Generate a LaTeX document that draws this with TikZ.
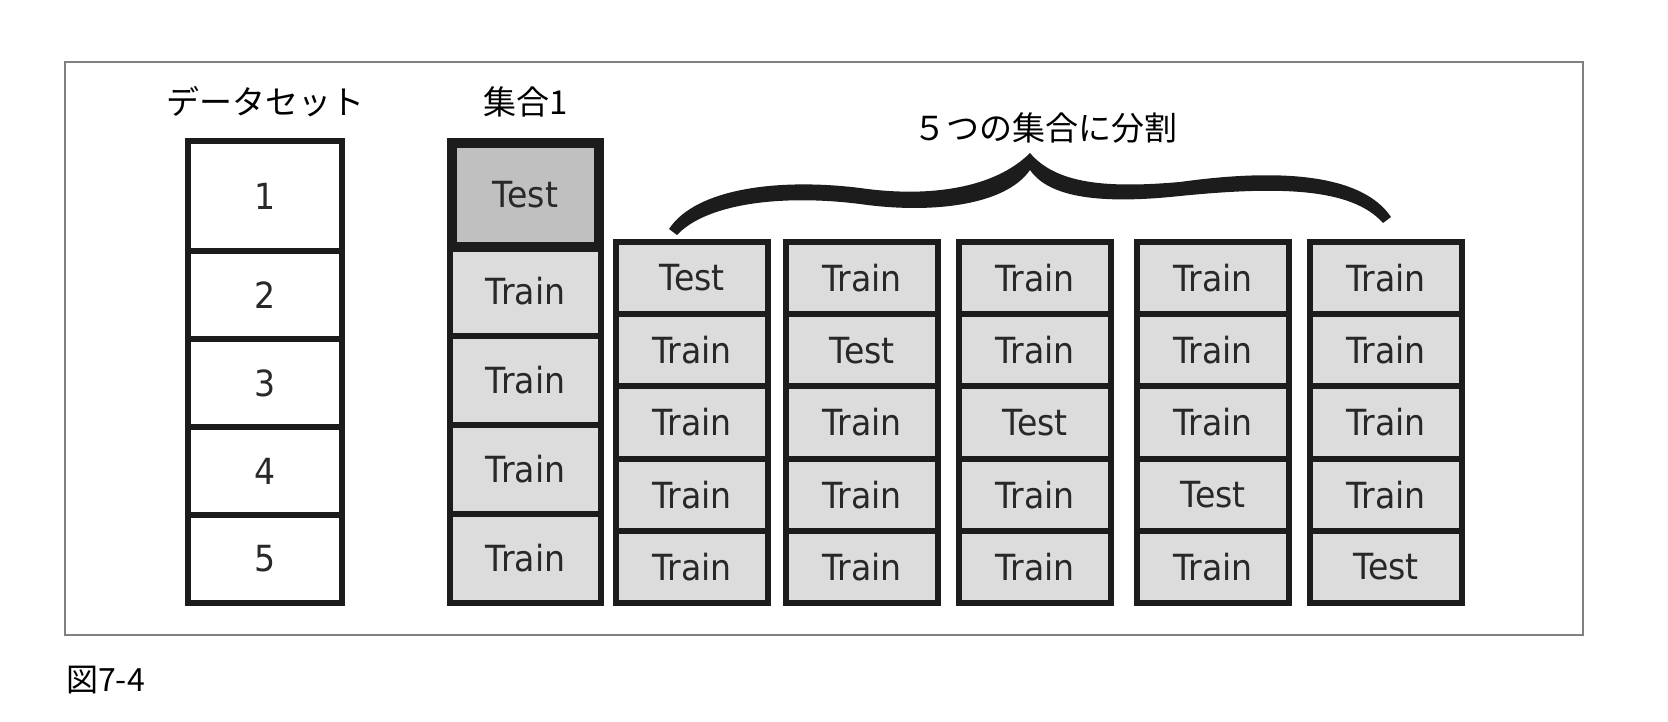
\documentclass[tikz,border=0pt]{standalone}
\usepackage{fontspec}
\setmainfont{DejaVu Sans}
\newfontfamily\cellfont[FakeStretch=0.92]{DejaVu Sans}
\newfontfamily\jpfont{Noto Sans CJK JP}
\usepackage{tikz}
\usetikzlibrary{positioning}
\definecolor{traingray}{RGB}{220,220,220}
\definecolor{testgray}{RGB}{192,192,192}
\definecolor{edgecolor}{RGB}{28,28,28}
\definecolor{textgray}{RGB}{40,40,40}
\definecolor{framegray}{RGB}{128,128,128}

\begin{document}
\begin{tikzpicture}[
    x=1pt, y=-1pt,
    cell/.style={rectangle, draw=edgecolor, line width=6pt, outer sep=0pt, inner sep=0pt, fill=traingray, text=textgray, minimum width=152pt, minimum height=72.2pt, font=\cellfont\fontsize{36}{38}\selectfont},
    dcell/.style={cell, fill=white, minimum width=154pt, minimum height=88pt},
    scell/.style={cell, minimum width=151pt, minimum height=89pt},
    title/.style={inner sep=0pt, text=black, font=\jpfont\fontsize{33}{36}\selectfont}
]
\path[use as bounding box, fill=white] (0,0) rectangle (1668,722);
\draw[framegray, line width=1.8pt] (65,62) rectangle (1583,635);

% dataset
\node[dcell, minimum height=110pt] (d1) at (265,196) {1};
\node[dcell, below=0pt of d1] (d2) {2};
\node[dcell, below=0pt of d2] (d3) {3};
\node[dcell, below=0pt of d3] (d4) {4};
\node[dcell, below=0pt of d4] (d5) {5};

% set 1
\node[scell] (s2) at (525.5,291.5) {Train};
\node[scell, below=0pt of s2] (s3) {Train};
\node[scell, below=0pt of s3] (s4) {Train};
\node[scell, below=0pt of s4] (s5) {Train};
\node[scell, fill=testgray, line width=10pt, minimum width=147pt, minimum height=104pt, above=0pt of s2] (s1) {Test};

% five folds
\node[cell] (f11) at (692,278.1) {Test};
\node[cell, below=0pt of f11] (f12) {Train};
\node[cell, below=0pt of f12] (f13) {Train};
\node[cell, below=0pt of f13] (f14) {Train};
\node[cell, below=0pt of f14] (f15) {Train};

\node[cell, right=18pt of f11] (f21) {Train};
\node[cell, below=0pt of f21] (f22) {Test};
\node[cell, below=0pt of f22] (f23) {Train};
\node[cell, below=0pt of f23] (f24) {Train};
\node[cell, below=0pt of f24] (f25) {Train};

\node[cell, right=21pt of f21] (f31) {Train};
\node[cell, below=0pt of f31] (f32) {Train};
\node[cell, below=0pt of f32] (f33) {Test};
\node[cell, below=0pt of f33] (f34) {Train};
\node[cell, below=0pt of f34] (f35) {Train};

\node[cell, right=26pt of f31] (f41) {Train};
\node[cell, below=0pt of f41] (f42) {Train};
\node[cell, below=0pt of f42] (f43) {Train};
\node[cell, below=0pt of f43] (f44) {Test};
\node[cell, below=0pt of f44] (f45) {Train};

\node[cell, right=21pt of f41] (f51) {Train};
\node[cell, below=0pt of f51] (f52) {Train};
\node[cell, below=0pt of f52] (f53) {Train};
\node[cell, below=0pt of f53] (f54) {Train};
\node[cell, below=0pt of f54] (f55) {Test};

% brace over the folds
\fill[edgecolor] (669,229) .. controls (696,188) and (780,178) .. (860,188)
    .. controls (930,198) and (995,188) .. (1030,153)
    .. controls (1057,185) and (1110,188) .. (1180,182)
    .. controls (1280,168) and (1362,174) .. (1391,217)
    -- (1383,223) .. controls (1352,188) and (1280,186) .. (1180,196)
    .. controls (1105,204) and (1050,199) .. (1030,170)
    .. controls (1005,206) and (930,214) .. (860,204)
    .. controls (780,194) and (706,204) .. (677,235) -- cycle;

% labels
\node[title, above=24pt of d1] (dlabel) {データセット};
\node[title, above=26pt of s1] (slabel) {集合1};
\node[title] (splitlabel) at (1045,128) {５つの集合に分割};
\node[title, anchor=west, font=\jpfont\fontsize{32}{35}\selectfont] (caption) at (66,680) {図7-4};
\end{tikzpicture}
\end{document}
